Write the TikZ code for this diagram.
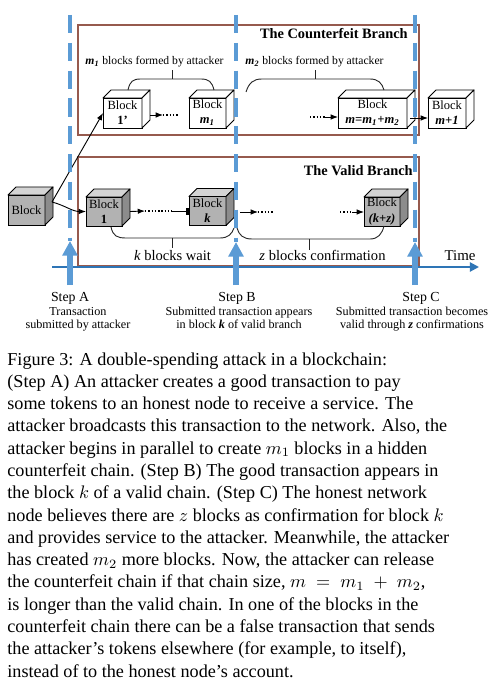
\documentclass[tikz,border=0pt]{standalone}
\usepackage{fontspec}
\setmainfont{Liberation Serif}
\usetikzlibrary{arrows.meta,calc}

\definecolor{boxc}{RGB}{150,90,78}
\definecolor{dashblue}{RGB}{91,155,213}
\definecolor{axisblue}{RGB}{46,117,182}
\definecolor{cubefront}{RGB}{178,178,178}
\definecolor{cubetop}{RGB}{212,212,212}
\definecolor{cubeside}{RGB}{140,140,140}

\newcommand\bi[1]{\textbf{\textit{#1}}}
\newcommand\fs[2]{\fontsize{#1}{#2}\selectfont}
\newcommand\cubefaces[3]{%
  \draw[cubeline,fill=#2] (#1.north west) -- ++(8,-8) -- ($(#1.north east)+(8,-8)$) -- (#1.north east) -- cycle;
  \draw[cubeline,fill=#3] (#1.north east) -- ++(8,-8) -- ($(#1.south east)+(8,-8)$) -- (#1.south east) -- cycle;}

\tikzset{
  blockw/.style={draw=black, line width=0.5pt, fill=white, inner sep=0pt, outer sep=0pt,
    align=center, font=\fs{6.9}{8.3}},
  blockg/.style={blockw, fill=cubefront},
  cubeline/.style={draw=black, line width=0.5pt, line join=round},
  branch/.style={draw=boxc, line width=0.6pt},
  brace/.style={draw=black!85, line width=0.5pt},
  arr/.style={-{Latex[length=4pt,width=3pt]}, line width=0.5pt},
  bararr/.style={-{Rectangle[length=1.5pt,width=3.8pt]}, line width=0.5pt},
  dots/.style={dash pattern=on 0.8pt off 1pt, line width=0.6pt},
  stepline/.style={dashblue, line width=1.7pt, dash pattern=on 10pt off 5.3pt},
  steparrow/.style={dashblue, line width=2.8pt, -{Triangle[length=8pt,width=8pt]}},
  timeaxis/.style={axisblue, line width=1.1pt, -{Triangle[length=5pt,width=5pt]}},
  lbl/.style={anchor=base, inner sep=0pt},
  caption/.style={anchor=base west, inner sep=0pt, font=\fs{10}{12}},
}

\begin{document}
\begin{tikzpicture}[x=0.55pt, y=-0.55pt]
\fill[white] (0,0) rectangle (494,686);
\useasboundingbox (0,0) rectangle (494,686);

% branch boxes
\draw[branch] (78,25) rectangle (419,135);
\draw[branch] (78,157) rectangle (419,266);
\node[anchor=base east, inner sep=0pt, font=\fs{7.9}{9}\bfseries] (ctitle) at (408,39) {The Counterfeit Branch};
\node[anchor=base east, inner sep=0pt, font=\fs{7.9}{9}\bfseries] (vtitle) at (413,176) {The Valid Branch};

% counterfeit blocks
\node[blockw, minimum width=39*0.55pt, minimum height=30*0.55pt] (b1p) at (122.5,113) {Block\\\textbf{1'}};
\cubefaces{b1p}{white}{white}
\node[blockw, minimum width=37*0.55pt, minimum height=30*0.55pt] (bm1) at (207.5,113) {Block\\\bi{m}\textsubscript{\bi{1}}};
\cubefaces{bm1}{white}{white}
\node[blockw, minimum width=69*0.55pt, minimum height=30*0.55pt] (bm) at (372.5,113) {Block\\\bi{m=m}\textsubscript{\bi{1}}\bi{+m}\textsubscript{\bi{2}}};
\cubefaces{bm}{white}{white}
\node[blockw, minimum width=38*0.55pt, minimum height=30*0.55pt] (bmp) at (447,113) {Block\\\bi{m+1}};
\cubefaces{bmp}{white}{white}

% valid blocks
\node[blockg, minimum width=37*0.55pt, minimum height=30*0.55pt] (lb) at (26.5,210) {Block};
\cubefaces{lb}{cubetop}{cubeside}
\node[blockg, minimum width=36*0.55pt, minimum height=29*0.55pt] (bv1) at (104,211.5) {Block\\\textbf{1}};
\cubefaces{bv1}{cubetop}{cubeside}
\node[blockg, minimum width=37*0.55pt, minimum height=29*0.55pt] (bk) at (207.5,211) {Block\\\bi{k}};
\cubefaces{bk}{cubetop}{cubeside}
\node[blockg, minimum width=36*0.55pt, minimum height=29*0.55pt] (bkz) at (382,211.5) {Block\\\bi{(k+z)}};
\cubefaces{bkz}{cubetop}{cubeside}

% free ends of the dotted runs
\coordinate (d1s) at (163,115);
\coordinate (d1e) at (178,115);
\coordinate (d2s) at (310,117);
\coordinate (d2e) at (325,117);
\coordinate (d3s) at (145,211);
\coordinate (d3e) at (172,211);
\coordinate (d4s) at (258,212);
\coordinate (d4e) at (273,212);
\coordinate (d5s) at (340,212);
\coordinate (d5e) at (352,212);

% connectors
\draw[arr] ($(lb.east)+(7,-8)$) -- (b1p.west);
\draw[arr] ($(lb.east)+(7,-8)$) to[out=-15,in=180] (bv1.west);
\draw[arr] ($(b1p.east)+(8,2)$) -- (d1s);
\draw[dots] (d1s) -- (d1e);
\draw[dots] (d2s) -- (d2e);
\draw[arr] (d2e) -- (d2e -| bm.west);
\draw[arr] ($(bm.east)+(3,5)$) -- ($(bmp.west)+(0,5)$);
\draw[arr] ($(bv1.east)+(8,0)$) -- (d3s);
\draw[dots] (d3s) -- (d3e);
\draw[bararr] (d3e) -- (d3e -| bk.west);
\draw[arr] ($(bk.east)+(14,1)$) -- (d4s);
\draw[dots] (d4s) -- (d4e);
\draw[dots] (d5s) -- (d5e);
\draw[arr] (d5e) -- (d5e -| bkz.west);

% braces
\draw[brace] (128,90) .. controls (130,81) and (133,79) .. (141,79) -- (201,79) .. controls (209,79) and (212,82) .. (214,90);
\draw[brace] (172,79) -- (172,70);
\draw[brace] (246,92) .. controls (249,83) and (253,79) .. (262,79) -- (370,79) .. controls (378,79) and (382,83) .. (384,90);
\draw[brace] (315,79) -- (315,70);
\draw[brace] (111,227) .. controls (113,236) and (117,238) .. (126,238) -- (220,238) .. controls (228,238) and (232,234) .. (234,228);
\draw[brace] (172,238) -- (172,248);
\draw[brace] (237,228) .. controls (239,235) and (243,239) .. (252,239) -- (370,239) .. controls (378,239) and (382,234) .. (384,226);
\draw[brace] (309,239) -- (309,250);

\node[lbl, font=\fs{6.4}{8}] (m1lab) at (154.5,65) {\bi{m}\textsubscript{\bi{1}} blocks formed by attacker};
\node[lbl, font=\fs{6.4}{8}] (m2lab) at (314.5,65) {\bi{m}\textsubscript{\bi{2}} blocks formed by attacker};
\node[lbl, font=\fs{8}{10}] (klab) at (172.5,261) {\textit{k} blocks wait};
\node[lbl, font=\fs{8}{10}] (zlab) at (322.5,261) {\textit{z} blocks confirmation};
\node[lbl, font=\fs{8.2}{10}] (timelab) at (460,261) {Time};

% time axis and steps
\coordinate (ax0) at (52,267);
\coordinate (ax1) at (479,267);
\draw[timeaxis] (ax0) -- (ax1);

\coordinate (topA) at (70,15);   \coordinate (tipA) at (70,241); \coordinate (botA) at (70,285);
\coordinate (topB) at (236,15);  \coordinate (tipB) at (236,242); \coordinate (botB) at (236,285);
\coordinate (topC) at (415,15);  \coordinate (tipC) at (415,242); \coordinate (botC) at (415,285);
\draw[stepline] (topA) -- (tipA);
\draw[stepline] (topB) -- (tipB);
\draw[stepline] (topC) -- (tipC);
\draw[steparrow] (botA) -- (tipA);
\draw[steparrow] (botB) -- (tipB);
\draw[steparrow] (botC) -- (tipC);

\node[lbl, font=\fs{7.6}{9}] (sA) at (70,301) {Step A};
\node[lbl, font=\fs{6.7}{8}] (sA1) at (78,315) {Transaction};
\node[lbl, font=\fs{6.7}{8}] (sA2) at (78,328) {submitted by attacker};
\node[lbl, font=\fs{7.6}{9}] (sB) at (237,301) {Step B};
\node[lbl, font=\fs{6.7}{8}] (sB1) at (239,315) {Submitted transaction appears};
\node[lbl, font=\fs{6.7}{8}] (sB2) at (239,328) {in block \bi{k} of valid branch};
\node[lbl, font=\fs{7.6}{9}] (sC) at (421,301) {Step C};
\node[lbl, font=\fs{6.7}{8}] (sC1) at (412,315) {Submitted transaction becomes};
\node[lbl, font=\fs{6.7}{8}] (sC2) at (412,328) {valid through \bi{z} confirmations};

% caption
\node[caption] (c1)  at (7,365.0) {Figure 3: A double-spending attack in a blockchain:};
\node[caption] (c2)  at (7,387.3) {(Step A) An attacker creates a good transaction to pay};
\node[caption] (c3)  at (7,409.6) {some tokens to an honest node to receive a service. The};
\node[caption] (c4)  at (7,431.9) {attacker broadcasts this transaction to the network. Also, the};
\node[caption] (c5)  at (7,454.2) {attacker begins in parallel to create $m_1$ blocks in a hidden};
\node[caption] (c6)  at (7,476.5) {counterfeit chain. (Step B) The good transaction appears in};
\node[caption] (c7)  at (7,498.7) {the block $k$ of a valid chain. (Step C) The honest network};
\node[caption] (c8)  at (7,521.0) {node believes there are $z$ blocks as confirmation for block $k$};
\node[caption] (c9)  at (7,543.3) {and provides service to the attacker. Meanwhile, the attacker};
\node[caption] (c10) at (7,565.6) {has created $m_2$ more blocks. Now, the attacker can release};
\node[caption] (c11) at (7,587.9) {the counterfeit chain if that chain size, $m\;=\;m_1\;+\;m_2$,};
\node[caption] (c12) at (7,610.2) {is longer than the valid chain. In one of the blocks in the};
\node[caption] (c13) at (7,632.5) {counterfeit chain there can be a false transaction that sends};
\node[caption] (c14) at (7,654.7) {the attacker's tokens elsewhere (for example, to itself),};
\node[caption] (c15) at (7,677.0) {instead of to the honest node's account.};
\end{tikzpicture}
\end{document}
